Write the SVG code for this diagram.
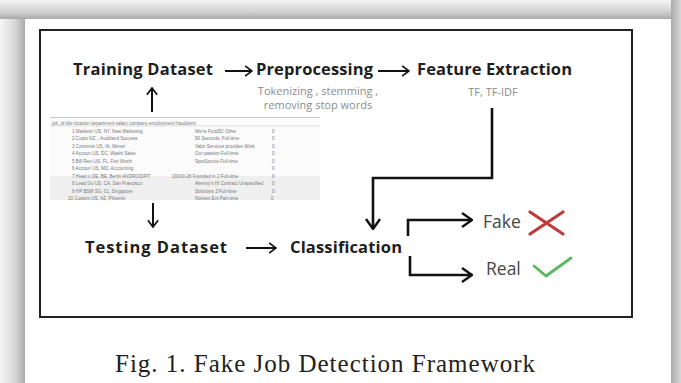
<svg xmlns="http://www.w3.org/2000/svg" width="681" height="383" viewBox="0 0 681 383">
<style>
.h{font-family:"Open Sans","DejaVu Sans",sans-serif;font-weight:700;font-size:16.5px;fill:#1e1e1e}
.sub{font-family:"Open Sans","DejaVu Sans",sans-serif;font-size:11px;fill:#8c8c8c}
.lbl{font-family:"Open Sans","DejaVu Sans",sans-serif;font-size:17.5px;fill:#454545}
.cap{font-family:"Liberation Serif","Times New Roman",serif;font-size:25px;fill:#222}
.tb{font-family:"Liberation Sans",Arial,sans-serif;font-size:4.6px;fill:#777}
.ln{fill:none;stroke:#111;stroke-width:2.6;stroke-linejoin:miter}
.ar{fill:none;stroke:#111;stroke-width:2}
</style>
<defs>
<linearGradient id="gl" x1="0" y1="0" x2="1" y2="0"><stop offset="0" stop-color="#f6f6f6"/><stop offset="0.6" stop-color="#d6d6d6"/><stop offset="1" stop-color="#ababab"/></linearGradient>
<linearGradient id="gt" x1="0" y1="0" x2="0" y2="1"><stop offset="0" stop-color="#f4f4f4"/><stop offset="0.6" stop-color="#d2d2d2"/><stop offset="1" stop-color="#a9a9a9"/></linearGradient>
<linearGradient id="gr" x1="0" y1="0" x2="1" y2="0"><stop offset="0" stop-color="#a9a9a9"/><stop offset="1" stop-color="#d8d8d8"/></linearGradient>
<marker id="chev" viewBox="0 0 12 16" refX="11" refY="8" markerWidth="12" markerHeight="16" markerUnits="userSpaceOnUse" orient="auto"><path d="M1,1 L11,8 L1,15" fill="none" stroke="#111" stroke-width="2.4"/></marker>
<marker id="chs" viewBox="0 0 10 14" refX="9" refY="7" markerWidth="9" markerHeight="12" markerUnits="userSpaceOnUse" orient="auto"><path d="M1,1 L9,7 L1,13" fill="none" stroke="#111" stroke-width="2"/></marker>
</defs>
<g id="frame">
<rect x="0" y="0" width="681" height="383" fill="#efefef"/>
<rect x="0" y="0" width="25" height="383" fill="url(#gl)"/>
<rect x="0" y="0" width="681" height="19" fill="url(#gt)"/>
<rect x="671" y="0" width="10" height="383" fill="url(#gr)"/>
<rect x="25" y="19" width="646" height="364" fill="#fff"/>
<rect x="40" y="30" width="592" height="287" fill="#fff" stroke="#222" stroke-width="2"/>
</g>
<g id="training"><text class="h" x="73" y="75" textLength="140">Training Dataset</text></g>
<g id="preprocessing"><text class="h" x="256" y="75" textLength="117">Preprocessing</text>
<text class="sub" x="318" y="95" text-anchor="middle">Tokenizing , stemming ,</text>
<text class="sub" x="318" y="109" text-anchor="middle">removing stop words</text></g>
<g id="feature"><text class="h" x="417" y="75" textLength="155">Feature Extraction</text>
<text class="sub" x="493" y="96" text-anchor="middle">TF, TF-IDF</text></g>
<g id="dataset">
<rect x="50" y="117" width="270" height="83" fill="#fbfbfb"/>
<rect x="50" y="176" width="270" height="24" fill="#efefef"/>
<line x1="50" y1="117.5" x2="320" y2="117.5" stroke="#bbb" stroke-width="0.8"/>
<line x1="50" y1="126" x2="320" y2="126" stroke="#ccc" stroke-width="0.6"/>
<text class="tb" x="52" y="124.5">job_id  title location   department salary  company  employment  fraudulent</text>
<text class="tb" x="72" y="132.5">1 Marketin US, NY, New Marketing</text><text class="tb" x="195" y="132.5">We're Food52 Other</text><text class="tb" x="272" y="132.5">0</text>
<text class="tb" x="72" y="140">2 Custo NZ, , Auckland Success</text><text class="tb" x="195" y="140">90 Seconds, Full-time</text><text class="tb" x="272" y="140">0</text>
<text class="tb" x="72" y="147.5">3 Commiss US, IA, Wever</text><text class="tb" x="195" y="147.5">Valor Services provides Work</text><text class="tb" x="272" y="147.5">0</text>
<text class="tb" x="72" y="155">4 Accoun US, DC, Washi Sales</text><text class="tb" x="195" y="155">Our passion Full-time</text><text class="tb" x="272" y="155">0</text>
<text class="tb" x="72" y="162.5">5 Bill Revi US, FL, Fort Worth</text><text class="tb" x="195" y="162.5">SpotSource Full-time</text><text class="tb" x="272" y="162.5">0</text>
<text class="tb" x="72" y="170">6 Accoun US, MD, Accounting</text><text class="tb" x="272" y="170">0</text>
<text class="tb" x="72" y="177.5">7 Head o DE, BE, Berlin ANDROIDPIT</text><text class="tb" x="172" y="177.5">20000-28 Founded in 2 Full-time</text><text class="tb" x="272" y="177.5">0</text>
<text class="tb" x="72" y="185">8 Lead Gu US, CA, San Francisco</text><text class="tb" x="195" y="185">Airenvy's Hi Contract Unspecified</text><text class="tb" x="272" y="185">0</text>
<text class="tb" x="72" y="192.5">9 HP BSM SG, 01, Singapore</text><text class="tb" x="195" y="192.5">Solutions 3 Full-time</text><text class="tb" x="272" y="192.5">0</text>
<text class="tb" x="68" y="199.5">10 Custom US, AZ, Phoenix</text><text class="tb" x="195" y="199.5">Novitex Ent Part-time</text><text class="tb" x="271" y="199.5">0</text>
</g>
<g id="testing"><text class="h" x="85" y="253" textLength="142">Testing Dataset</text></g>
<g id="classification"><text class="h" x="290" y="253" textLength="112">Classification</text></g>
<g id="fake"><text class="lbl" x="483" y="228">Fake</text>
<path d="M530,212 L563,234 M563,212 L530,234" stroke="#c0393b" stroke-width="3.2" fill="none" stroke-linecap="round"/></g>
<g id="real"><text class="lbl" x="486" y="275">Real</text>
<path d="M534,266 L546,276 L571,258" stroke="#5cb85c" stroke-width="2.8" fill="none" stroke-linecap="round" stroke-linejoin="round"/></g>
<g id="connectors">
<path class="ar" d="M225,71 H252" marker-end="url(#chs)"/>
<path class="ar" d="M378,71 H409" marker-end="url(#chs)"/>
<path class="ar" d="M152,112 V88" marker-end="url(#chs)"/>
<path class="ar" d="M153,203 V227" marker-end="url(#chs)"/>
<path class="ar" d="M246,248 H276" marker-end="url(#chs)"/>
<path class="ln" d="M492,108 V178 H373 V229" marker-end="url(#chev)"/>
<path class="ln" d="M408,236 V220 H472" marker-end="url(#chev)"/>
<path class="ln" d="M410,256 V275 H472" marker-end="url(#chev)"/>
</g>
<g id="caption"><text class="cap" x="115" y="372" textLength="420">Fig. 1. Fake Job Detection Framework</text></g>
</svg>
